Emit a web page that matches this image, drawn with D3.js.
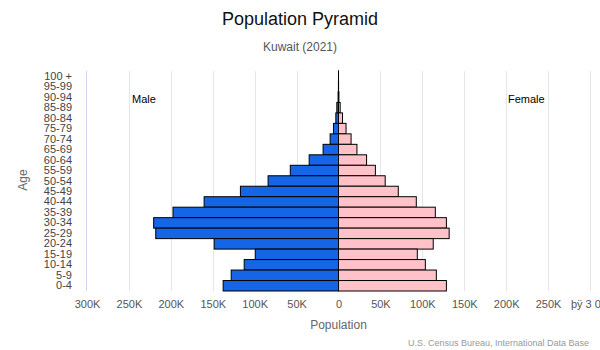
<!DOCTYPE html>
<html>
<head>
<meta charset="utf-8">
<script src="https://cdn.jsdelivr.net/npm/d3@7"></script>
<style>
  html, body { margin: 0; padding: 0; background: #fff; }
  svg { display: block; font-family: "Liberation Sans", Arial, Helvetica, sans-serif; }
</style>
</head>
<body>
<svg id="chart" width="600" height="350"></svg>
<script>
const ageGroups = ["100 +","95-99","90-94","85-89","80-84","75-79","70-74","65-69","60-64","55-59","50-54","45-49","40-44","35-39","30-34","25-29","20-24","15-19","10-14","5-9","0-4"];
const maleValues = [20, 100, 500, 2000, 3200, 6000, 10000, 18400, 35000, 57500, 84000, 117000, 160300, 197400, 220500, 218000, 148300, 99300, 112500, 128000, 137600];
const femaleValues = [20, 100, 500, 2000, 4800, 9000, 15000, 22000, 33500, 44000, 55700, 71300, 92800, 115500, 128700, 132000, 113000, 94000, 103600, 116700, 128700];
const tickValues = [-300000,-250000,-200000,-150000,-100000,-50000,0,50000,100000,150000,200000,250000,300000];
const tickLabels = ["300K","250K","200K","150K","100K","50K","0","50K","100K","150K","200K","250K","þÿ 3 0 0"];

const svg = d3.select("#chart");
const x = d3.scaleLinear().domain([-300000, 300000]).range([87, 590]);
const y = d3.scaleBand().domain(ageGroups).range([71, 291]).padding(0);

// title & subtitle
svg.append("text").attr("x", 300).attr("y", 25).attr("text-anchor", "middle")
  .attr("font-size", 18).attr("fill", "#111").text("Population Pyramid");
svg.append("text").attr("x", 300).attr("y", 51).attr("text-anchor", "middle")
  .attr("font-size", 12).attr("fill", "#555").text("Kuwait (2021)");

// gridlines
svg.append("g").selectAll("line").data(tickValues.filter(d => d !== -300000 && d !== 0))
  .join("line")
  .attr("x1", d => Math.round(x(d)) + 0.5).attr("x2", d => Math.round(x(d)) + 0.5)
  .attr("y1", 71).attr("y2", 291)
  .attr("stroke", "#e6e6e6").attr("stroke-width", 1);

// category axis line
svg.append("line").attr("x1", 86.5).attr("x2", 86.5).attr("y1", 71).attr("y2", 291)
  .attr("stroke", "#ccd6eb").attr("stroke-width", 1);

// x axis tick labels
const xAxis = d3.axisBottom(x).tickValues(tickValues)
  .tickFormat((d, i) => tickLabels[i]).tickSize(0).tickPadding(0);
const gx = svg.append("g").attr("transform", "translate(0,300)").call(xAxis);
gx.select(".domain").remove();
gx.selectAll("text").attr("font-size", 11).attr("fill", "#555")
  .attr("font-family", "\"Liberation Sans\", Arial, sans-serif").attr("dy", "0.71em");

// y axis labels
const yAxis = d3.axisLeft(y).tickSize(0).tickPadding(0);
const gy = svg.append("g").attr("transform", "translate(72,0)").call(yAxis);
gy.select(".domain").remove();
gy.selectAll("text").attr("font-size", 11).attr("fill", "#444")
  .attr("font-family", "\"Liberation Sans\", Arial, sans-serif");

// bars
svg.append("g").selectAll("rect").data(ageGroups)
  .join("rect")
  .attr("x", (d, i) => x(-maleValues[i]))
  .attr("y", d => y(d))
  .attr("width", (d, i) => x(0) - x(-maleValues[i]))
  .attr("height", y.bandwidth())
  .attr("fill", "#1565e6").attr("stroke", "#000").attr("stroke-width", 1);
svg.append("g").selectAll("rect").data(ageGroups)
  .join("rect")
  .attr("x", x(0))
  .attr("y", d => y(d))
  .attr("width", (d, i) => x(femaleValues[i]) - x(0))
  .attr("height", y.bandwidth())
  .attr("fill", "#ffc2c9").attr("stroke", "#000").attr("stroke-width", 1);

// series labels
svg.append("text").attr("x", x(-232000)).attr("y", 103).attr("text-anchor", "middle")
  .attr("font-size", 11).attr("fill", "#000").text("Male");
svg.append("text").attr("x", x(224000)).attr("y", 103).attr("text-anchor", "middle")
  .attr("font-size", 11).attr("fill", "#000").text("Female");

// axis titles
svg.append("text").attr("transform", "translate(27,180) rotate(-90)").attr("text-anchor", "middle")
  .attr("font-size", 12).attr("fill", "#666").text("Age");
svg.append("text").attr("x", x(0)).attr("y", 329).attr("text-anchor", "middle")
  .attr("font-size", 12).attr("fill", "#666").text("Population");

// credits
svg.append("text").attr("x", 589).attr("y", 346).attr("text-anchor", "end")
  .attr("font-size", 9).attr("fill", "#999").text("U.S. Census Bureau, International Data Base");
</script>
</body>
</html>
